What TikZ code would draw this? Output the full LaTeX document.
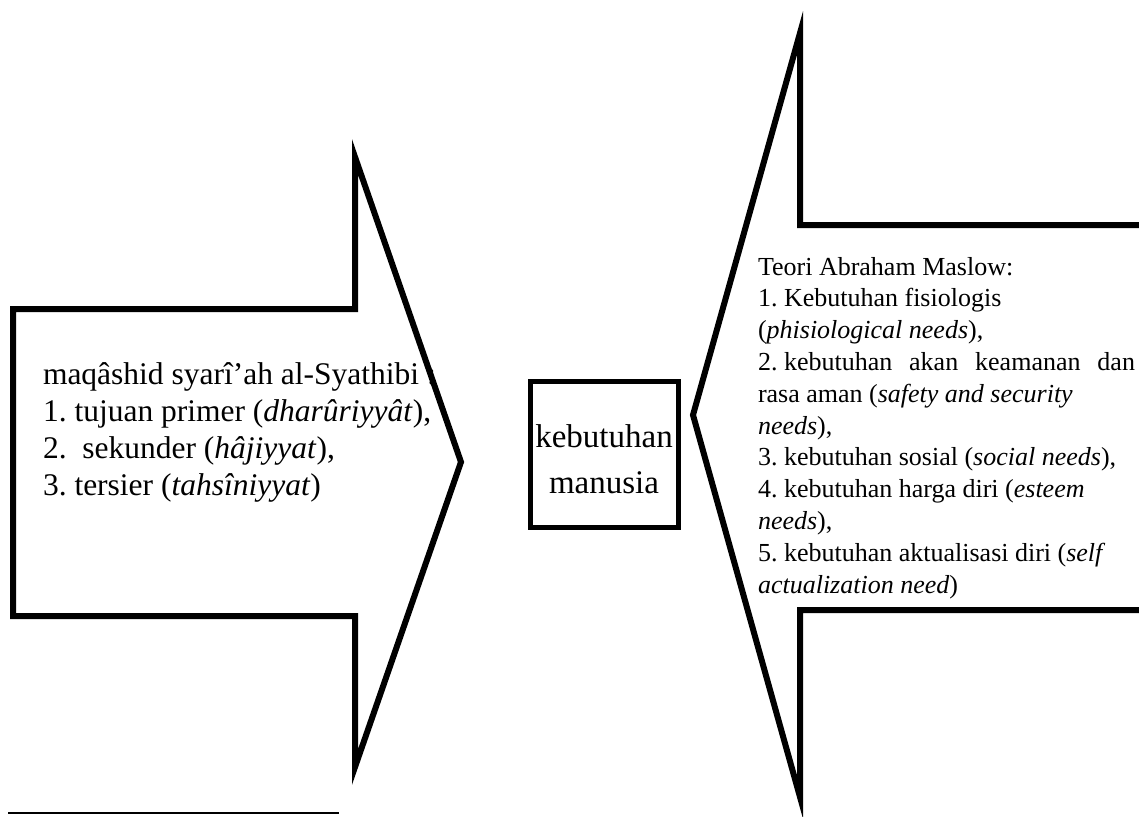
\documentclass[tikz,border=0pt]{standalone}
\usepackage{fontspec}
\setmainfont{Liberation Serif}
\begin{document}
\frenchspacing
\begin{tikzpicture}[x=1pt,y=-1pt,
    outline/.style={draw=black,line width=6pt,line join=miter,miter limit=12},
    needbox/.style={draw=black,line width=5pt,minimum width=148pt,minimum height=146pt,inner sep=0pt},
    plain/.style={inner sep=0pt,outer sep=0pt}]
  \useasboundingbox (0,0) rectangle (1139,816);
  \clip (0,0) rectangle (1139,816);

  % left list: maqashid syari'ah
  \node[plain,anchor=base west] (maqashid) at (43,384) {\parbox[t]{420pt}{\fontsize{31.5}{37}\selectfont
    maqâshid syarî’ah al-Syathibi :\\
    1. tujuan primer (\textit{dharûriyyât}),\\
    2.\ \ sekunder (\textit{hâjiyyat}),\\
    3. tersier (\textit{tahsîniyyat})}};

  % right list: Maslow
  \node[plain,anchor=base west] (maslow) at (758,275) {\parbox[t]{377pt}{\fontsize{26}{31.8}\selectfont
    Teori Abraham Maslow:\\
    1. Kebutuhan fisiologis\\
    (\textit{phisiological needs}),\\
    \makebox[\linewidth][s]{\mbox{2. kebutuhan} akan keamanan dan}\\
    rasa aman (\textit{safety and security}\\
    \textit{needs}),\\
    3. kebutuhan sosial (\textit{social needs}),\\
    4. kebutuhan harga diri (\textit{esteem}\\
    \textit{needs}),\\
    5. kebutuhan aktualisasi diri (\textit{self}\\
    \textit{actualization need})}};

  % block arrow pointing right
  \draw[outline] (13,309) -- (355,309) -- (355,157) -- (461,462)
                 -- (355,767) -- (355,616) -- (13,616) -- cycle;

  % block arrow pointing left, its shaft running off the right edge
  \draw[outline] (1160,225) -- (800,225) -- (800,33) -- (693,415)
                 -- (800,797) -- (800,610) -- (1160,610);

  % central box
  \node[needbox] (need) at (604,454) {};
  \node[plain,anchor=base] (needtext) at (604,447) {\parbox[t]{160pt}{\centering\fontsize{33}{46}\selectfont
    kebutuhan\\manusia}};

  % footnote rule
  \draw[line width=2.5pt] (8,813) -- (339,813);
\end{tikzpicture}
\end{document}
